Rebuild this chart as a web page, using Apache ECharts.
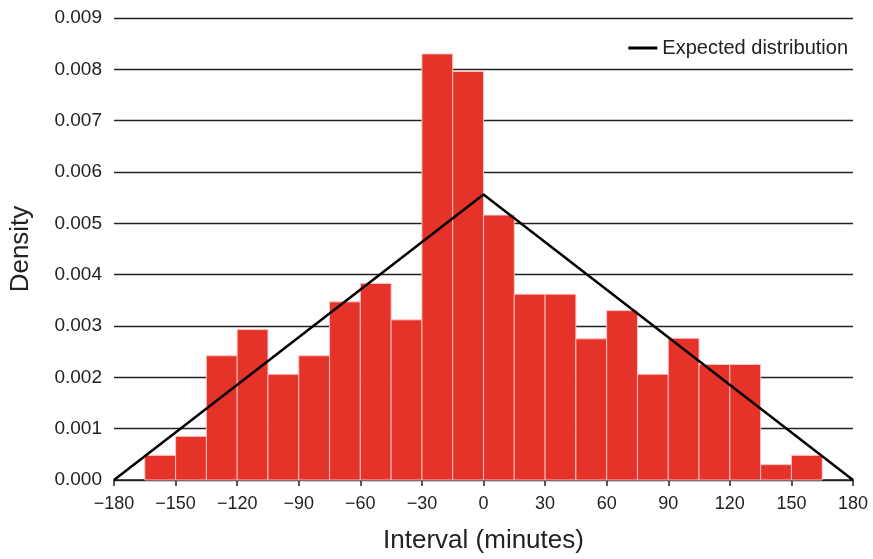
<!DOCTYPE html>
<html>
<head>
<meta charset="utf-8">
<script src="https://cdn.jsdelivr.net/npm/echarts@6/dist/echarts.min.js"></script>
<style>
  html, body { margin: 0; padding: 0; background: #fff; }
  #chart { width: 873px; height: 559px; }
</style>
</head>
<body>
<div id="chart"></div>
<script>
// Histogram bins: left edge of each 15-minute bin (minutes)
const binStarts = [-165, -150, -135, -120, -105, -90, -75, -60, -45, -30, -15,
                   0, 15, 30, 45, 60, 75, 90, 105, 120, 135, 150];
const binWidth = 15;
// Observed density per bin
const densities = [0.00048, 0.00085, 0.00242, 0.00293, 0.00206, 0.00242, 0.00347, 0.00383, 0.00312, 0.00830, 0.00796,
                   0.00516, 0.00362, 0.00362, 0.00275, 0.00330, 0.00206, 0.00276, 0.00225, 0.00225, 0.00030, 0.00048];
// Expected (triangular) distribution vertices
const expectedX = [-180, 0, 180];
const expectedY = [0, 0.00556, 0];
// Axis ticks
const xTicks = [-180, -150, -120, -90, -60, -30, 0, 30, 60, 90, 120, 150, 180];

const histData = binStarts.map((s, i) => [s, s + binWidth, densities[i]]);
const lineData = expectedX.map((x, i) => [x, expectedY[i]]);

const chart = echarts.init(document.getElementById('chart'), null, { renderer: 'canvas' });
const textColor = '#222';
const font = 'Liberation Sans, Arial, sans-serif';

chart.setOption({
  backgroundColor: '#fff',
  animation: false,
  textStyle: { fontFamily: font },
  grid: { left: 113, right: 20, top: 18, bottom: 77.5, containLabel: false },
  legend: {
    data: [{ name: 'Expected distribution', icon: 'rect' }],
    right: 20, top: 33,
    itemWidth: 29, itemHeight: 3, itemGap: 10,
    textStyle: { color: textColor, fontSize: 20, fontFamily: font },
    itemStyle: { color: '#000' }
  },
  xAxis: {
    type: 'value',
    min: xTicks[0], max: xTicks[xTicks.length - 1], interval: 30,
    name: 'Interval (minutes)',
    nameLocation: 'middle', nameGap: 48,
    nameTextStyle: { color: textColor, fontSize: 26, fontFamily: font },
    axisLine: { show: true, onZero: false, lineStyle: { color: '#222', width: 1.5 } },
    axisTick: { show: true, length: 6, lineStyle: { color: '#222', width: 1.5 } },
    axisLabel: {
      color: textColor, fontSize: 18, margin: 15, fontFamily: font,
      formatter: v => (v < 0 ? '\u2212' + Math.abs(v) : String(v))
    },
    splitLine: { show: false }
  },
  yAxis: {
    type: 'value',
    min: 0, max: 0.009, interval: 0.001,
    name: 'Density',
    nameLocation: 'middle', nameGap: 80, nameRotate: 90,
    nameTextStyle: { color: textColor, fontSize: 26, fontFamily: font },
    axisLine: { show: false },
    axisTick: { show: false },
    axisLabel: {
      color: textColor, fontSize: 19, margin: 12, fontFamily: font,
      formatter: v => v.toFixed(3)
    },
    splitLine: { show: true, lineStyle: { color: '#222', width: 1.3 } }
  },
  series: [
    {
      name: 'Observed',
      type: 'custom',
      data: histData,
      encode: { x: [0, 1], y: 2 },
      z: 2,
      renderItem: function (params, api) {
        const top = api.coord([api.value(0), api.value(2)]);
        const base = api.coord([api.value(1), 0]);
        return {
          type: 'rect',
          shape: { x: top[0], y: top[1], width: base[0] - top[0], height: base[1] - top[1] },
          style: { fill: '#e6332a', stroke: 'rgba(255,200,200,0.9)', lineWidth: 1 }
        };
      }
    },
    {
      name: 'Expected distribution',
      type: 'line',
      data: lineData,
      z: 3,
      symbol: 'none',
      lineStyle: { color: '#000', width: 2.5 },
      itemStyle: { color: '#000' }
    }
  ]
});
</script>
</body>
</html>
